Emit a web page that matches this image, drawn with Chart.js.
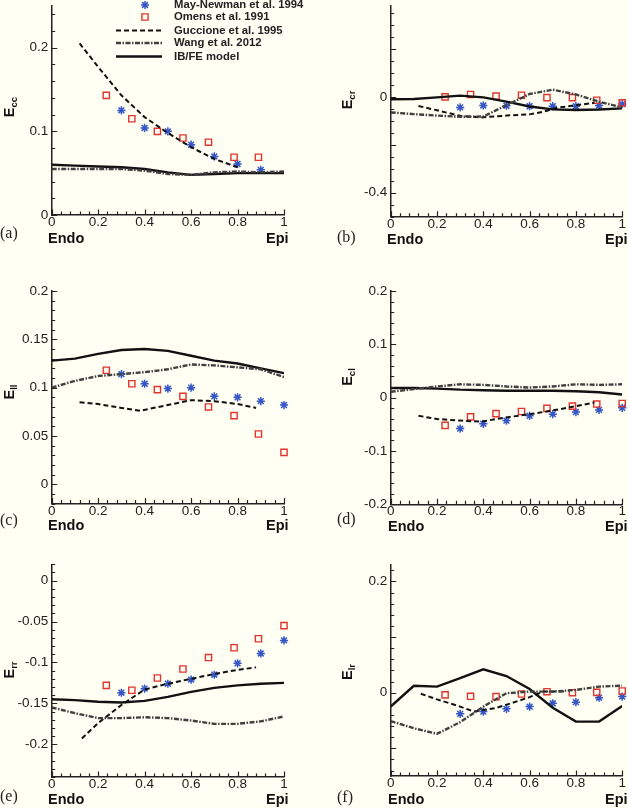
<!DOCTYPE html>
<html><head><meta charset="utf-8">
<script src="https://cdn.jsdelivr.net/npm/chart.js@4.4.0/dist/chart.umd.min.js"></script>
<style>
html,body{margin:0;padding:0;background:#fffff3;}
body{width:628px;height:808px;position:relative;overflow:hidden;font-family:"Liberation Sans",Arial,sans-serif;}
canvas{position:absolute;}
.t{position:absolute;white-space:nowrap;line-height:1;color:#111;}
.ytitle{font-weight:bold;font-size:14.5px;transform:translate(-50%,-50%) rotate(-90deg);}
.ytitle sub{font-size:9.5px;vertical-align:-3px;}
.end{font-weight:bold;font-size:14.5px;transform:translateY(-50%);}
.plab{font-family:"Liberation Serif","Times New Roman",serif;font-size:16px;transform:translateY(-50%);color:#222;}
</style></head>
<body>
<canvas id="cA" width="310" height="268" style="left:0;top:0"></canvas>
<canvas id="cB" width="318" height="268" style="left:310px;top:0"></canvas>
<canvas id="cC" width="310" height="267" style="left:0;top:268px"></canvas>
<canvas id="cD" width="318" height="267" style="left:310px;top:268px"></canvas>
<canvas id="cE" width="310" height="273" style="left:0;top:535px"></canvas>
<canvas id="cF" width="318" height="273" style="left:310px;top:535px"></canvas>

<div class="t ytitle" style="left:9.5px;top:107px">E<sub>cc</sub></div>
<div class="t ytitle" style="left:348px;top:100px">E<sub>cr</sub></div>
<div class="t ytitle" style="left:9.5px;top:392px">E<sub>ll</sub></div>
<div class="t ytitle" style="left:348px;top:377px">E<sub>cl</sub></div>
<div class="t ytitle" style="left:9.5px;top:670px">E<sub>rr</sub></div>
<div class="t ytitle" style="left:348px;top:672px">E<sub>lr</sub></div>

<div class="t end" style="left:48px;top:238px">Endo</div>
<div class="t end" style="left:266px;top:238px">Epi</div>
<div class="t end" style="left:387px;top:239px">Endo</div>
<div class="t end" style="left:605px;top:239px">Epi</div>
<div class="t end" style="left:48px;top:525px">Endo</div>
<div class="t end" style="left:266px;top:525px">Epi</div>
<div class="t end" style="left:388px;top:526px">Endo</div>
<div class="t end" style="left:605px;top:526px">Epi</div>
<div class="t end" style="left:48px;top:799px">Endo</div>
<div class="t end" style="left:266px;top:799px">Epi</div>
<div class="t end" style="left:388px;top:799px">Endo</div>
<div class="t end" style="left:605px;top:799px">Epi</div>

<div class="t plab" style="left:0;top:233px">(a)</div>
<div class="t plab" style="left:337px;top:237px">(b)</div>
<div class="t plab" style="left:0;top:520px">(c)</div>
<div class="t plab" style="left:337px;top:519px">(d)</div>
<div class="t plab" style="left:0;top:796px">(e)</div>
<div class="t plab" style="left:337px;top:797px">(f)</div>

<script>
// ---------- data ----------
const xGrid = [0,0.1,0.2,0.3,0.4,0.5,0.6,0.7,0.8,0.9,1];
const xStars = [0.3,0.4,0.5,0.6,0.7,0.8,0.9,1.0];
const xSquares = [0.235,0.345,0.455,0.565,0.675,0.785,0.89,1.0];
const xTickLabels = [0,0.2,0.4,0.6,0.8,1];

const seriesNames = ["May-Newman et al. 1994","Omens et al. 1991","Guccione et al. 1995","Wang et al. 2012","IB/FE model"];

// (a) E_cc
const ibfeA = [0.060,0.059,0.058,0.057,0.055,0.051,0.048,0.049,0.050,0.050,0.050];
const wangA = [0.055,0.055,0.055,0.055,0.053,0.049,0.048,0.051,0.052,0.051,0.052];
const gucXA = [0.12,0.2,0.3,0.4,0.5,0.6,0.7,0.8];
const gucA  = [0.205,0.177,0.143,0.117,0.098,0.081,0.067,0.057];
const mayA  = [0.125,0.104,0.100,0.084,0.070,0.061,0.054];
const omensA= [0.143,0.115,0.100,0.092,0.087,0.069,0.069];
const yTicksA = [0,0.1,0.2];

// (b) E_cr
const ibfeB = [-0.010,-0.009,-0.002,0.005,-0.002,-0.020,-0.040,-0.052,-0.055,-0.053,-0.048];
const wangB = [-0.065,-0.072,-0.078,-0.083,-0.082,-0.035,0.012,0.030,0.010,-0.020,-0.044];
const gucXB = [0.12,0.2,0.3,0.39,0.5,0.6,0.66,0.72,0.8,0.88];
const gucB  = [-0.038,-0.056,-0.079,-0.086,-0.078,-0.073,-0.062,-0.045,-0.035,-0.025];
const mayB  = [-0.044,-0.036,-0.037,-0.039,-0.039,-0.039,-0.036,-0.030];
const omensB= [0.000,0.010,0.003,0.007,-0.003,-0.003,-0.014,-0.025];
const yTicksB = [-0.4,0];

// (c) E_ll
const ibfeC = [0.128,0.130,0.135,0.139,0.140,0.138,0.133,0.128,0.125,0.120,0.115];
const wangC = [0.100,0.107,0.112,0.114,0.116,0.119,0.124,0.123,0.121,0.119,0.111];
const gucXC = [0.12,0.2,0.3,0.38,0.5,0.6,0.7,0.8,0.88];
const gucC  = [0.085,0.083,0.079,0.076,0.082,0.087,0.086,0.083,0.079];
const mayC  = [0.114,0.104,0.099,0.100,0.091,0.090,0.086,0.082];
const omensC= [0.118,0.104,0.098,0.091,0.080,0.071,0.052,0.033];
const yTicksC = [0,0.05,0.1,0.15,0.2];

// (d) E_cl
const ibfeD = [0.018,0.018,0.017,0.015,0.014,0.013,0.013,0.013,0.012,0.010,0.006];
const wangD = [0.011,0.016,0.021,0.025,0.024,0.021,0.019,0.021,0.025,0.024,0.025];
const gucXD = [0.12,0.2,0.3,0.39,0.5,0.6,0.7,0.8,0.88];
const gucD  = [-0.034,-0.040,-0.043,-0.045,-0.037,-0.031,-0.024,-0.016,-0.009];
const mayD  = [-0.058,-0.049,-0.043,-0.034,-0.031,-0.027,-0.023,-0.019];
const omensD= [-0.052,-0.036,-0.030,-0.026,-0.020,-0.016,-0.012,-0.011];
const yTicksD = [-0.2,-0.1,0,0.1,0.2];

// (e) E_rr
const ibfeE = [-0.145,-0.146,-0.148,-0.149,-0.147,-0.142,-0.136,-0.131,-0.128,-0.126,-0.125];
const wangE = [-0.155,-0.162,-0.168,-0.168,-0.167,-0.168,-0.171,-0.175,-0.175,-0.172,-0.166];
const gucXE = [0.13,0.2,0.3,0.4,0.5,0.6,0.7,0.8,0.88];
const gucE  = [-0.193,-0.174,-0.152,-0.133,-0.126,-0.120,-0.114,-0.109,-0.106];
const mayE  = [-0.137,-0.132,-0.126,-0.121,-0.115,-0.101,-0.089,-0.073];
const omensE= [-0.128,-0.134,-0.119,-0.108,-0.094,-0.082,-0.071,-0.055];
const yTicksE = [-0.2,-0.15,-0.1,-0.05,0];

// (f) E_lr
const ibfeF = [-0.025,0.0125,0.011,0.026,0.042,0.030,0.0065,-0.027,-0.052,-0.052,-0.024];
const wangF = [-0.051,-0.064,-0.074,-0.053,-0.025,-0.001,0.002,0.002,0.005,0.011,0.0125];
const gucXF = [0.13,0.2,0.3,0.36,0.45,0.52,0.6,0.66,0.75];
const gucF  = [-0.002,-0.012,-0.025,-0.034,-0.028,-0.019,-0.008,0.002,0.002];
const mayF  = [-0.038,-0.034,-0.029,-0.025,-0.019,-0.017,-0.009,-0.007];
const omensF= [-0.004,-0.0065,-0.007,-0.0024,0.0018,0.000,0.0006,0.003];
const yTicksF = [0,0.2];

// ---------- helpers ----------
Chart.defaults.font.family = '"Liberation Sans", Arial, Helvetica, sans-serif';
const FONT = '"Liberation Sans", Arial, Helvetica, sans-serif';
function fmt(v){ return String(+v.toFixed(4)); }
function pairs(xs, ys){ const n=Math.min(xs.length, ys.length); const o=[]; for(let i=0;i<n;i++) o.push({x:xs[i], y:ys[i]}); return o; }

function drawMarker(ctx, style, x, y, r){
  ctx.beginPath();
  if(style==='star'){
    const d=r*Math.SQRT1_2;
    ctx.moveTo(x-r,y);ctx.lineTo(x+r,y);ctx.moveTo(x,y-r);ctx.lineTo(x,y+r);
    ctx.moveTo(x-d,y-d);ctx.lineTo(x+d,y+d);ctx.moveTo(x-d,y+d);ctx.lineTo(x+d,y-d);
  } else {
    const s=r*Math.SQRT1_2; ctx.rect(x-s,y-s,2*s,2*s);
  }
  ctx.stroke();
}

function makeTickPlugin(yMajor, yMinorStep){
  const xMinorStep = 0.04;
  return {
    id:'inTicks',
    afterDraw(chart){
      const ctx = chart.ctx; const ca = chart.chartArea; const xs=chart.scales.x, ys=chart.scales.y;
      const isMaj=(arr,v)=>arr.some(m=>Math.abs(m-v)<1e-6);
      ctx.save(); ctx.setLineDash([]); ctx.strokeStyle='#222'; ctx.lineWidth=1.2; ctx.beginPath();
      const k0=Math.ceil(ys.min/yMinorStep-1e-6), k1=Math.floor(ys.max/yMinorStep+1e-6);
      for(let k=k0;k<=k1;k++){
        const v=k*yMinorStep; const p=Math.round(ys.getPixelForValue(v))+0.5;
        const L=isMaj(yMajor,v)?5.5:3.5; ctx.moveTo(ca.left,p); ctx.lineTo(ca.left+L,p);
      }
      for(let k=0;k<=25;k++){
        const v=k*xMinorStep; const p=Math.round(xs.getPixelForValue(v))+0.5;
        const L=isMaj(xTickLabels,v)?5.5:3.5; ctx.moveTo(p,ca.bottom); ctx.lineTo(p,ca.bottom-L);
      }
      ctx.stroke(); ctx.restore();
    }
  };
}

const legendPlugin = {
  id:'legendA',
  afterDraw(chart){
    const ctx=chart.ctx; const ds=chart.data.datasets;
    const order=[4,3,1,0,2]; const rowsY=[5,17,30.5,43,56.5];
    ctx.save();
    order.forEach((di,i)=>{
      const d=ds[di]; const y=rowsY[i];
      ctx.strokeStyle=d.borderColor; ctx.lineWidth=d.borderWidth;
      if(d.showLine){
        ctx.setLineDash(d.borderDash||[]); ctx.beginPath(); ctx.moveTo(116,y); ctx.lineTo(162,y); ctx.stroke(); ctx.setLineDash([]);
      } else {
        drawMarker(ctx, d.pointStyle, 145, y, d.pointRadius);
      }
      ctx.fillStyle='#222'; ctx.font='bold 11.3px '+FONT; ctx.textBaseline='middle'; ctx.textAlign='left';
      ctx.fillText(d.label, 174, y);
    });
    ctx.restore();
  }
};

function makePanel(id, p){
  const datasets = [
    {label:seriesNames[3], data:pairs(xGrid,p.wang), showLine:true, borderColor:'#404040', borderWidth:2.4, borderDash:[5,1.5,1.5,1.5], pointRadius:0, tension:0},
    {label:seriesNames[2], data:pairs(p.gucX,p.guc), showLine:true, borderColor:'#111', borderWidth:2, borderDash:[5,3], pointRadius:0, tension:0},
    {label:seriesNames[4], data:pairs(xGrid,p.ibfe), showLine:true, borderColor:'#111', borderWidth:2.4, pointRadius:0, tension:0},
    {label:seriesNames[1], data:pairs(xSquares,p.omens), showLine:false, pointStyle:'rect', pointRadius:4.4, borderColor:'#e0352f', backgroundColor:'rgba(0,0,0,0)', borderWidth:1.4, clip:false},
    {label:seriesNames[0], data:pairs(xStars,p.may), showLine:false, pointStyle:'star', pointRadius:4.1, borderColor:'#3556c4', backgroundColor:'rgba(0,0,0,0)', borderWidth:1.5, clip:false}
  ];
  const tickFont = {size:13.5, lineHeight:1, family:FONT};
  const plugins = [makeTickPlugin(p.yMajor, p.yMinor)];
  if(p.legend) plugins.push(legendPlugin);
  new Chart(document.getElementById(id), {
    type:'scatter',
    data:{datasets},
    options:{
      responsive:false, animation:false, devicePixelRatio:1,
      layout:{padding:p.pad},
      plugins:{legend:{display:false}, tooltip:{enabled:false}},
      elements:{point:{hoverRadius:0}},
      scales:{
        x:{type:'linear', min:0, max:1,
          afterBuildTicks:s=>{ s.ticks = xTickLabels.map(v=>({value:v})); },
          afterFit:s=>{ s.height=16; s.paddingLeft=0; s.paddingRight=0; },
          grid:{display:false, drawTicks:false},
          border:{display:true, color:'#222', width:1.5},
          ticks:{padding:0.5, font:tickFont, color:'#222', maxRotation:0, autoSkip:false, callback:v=>fmt(v)}},
        y:{type:'linear', min:p.yMin, max:p.yMax,
          afterBuildTicks:s=>{ s.ticks = p.yLabels.map(v=>({value:v})); },
          afterFit:s=>{ s.width=40; s.paddingTop=0; s.paddingBottom=0; },
          grid:{display:false, drawTicks:false},
          border:{display:true, color:'#222', width:1.5},
          ticks:{padding:3.5, font:tickFont, color:'#222', autoSkip:false, callback:v=>fmt(v)}}
      }
    },
    plugins
  });
}

makePanel('cA', {ibfe:ibfeA, wang:wangA, gucX:gucXA, guc:gucA, may:mayA, omens:omensA,
  yMin:0, yMax:0.25, yLabels:yTicksA, yMajor:[0,0.1,0.2], yMinor:0.02,
  pad:{left:11.7, right:26, top:3.4, bottom:37}, legend:true});
makePanel('cB', {ibfe:ibfeB, wang:wangB, gucX:gucXB, guc:gucB, may:mayB, omens:omensB,
  yMin:-0.5, yMax:0.38, yLabels:yTicksB, yMajor:[-0.4,-0.2,0,0.2], yMinor:0.05,
  pad:{left:40.7, right:5.3, top:5.5, bottom:35.3}});
makePanel('cC', {ibfe:ibfeC, wang:wangC, gucX:gucXC, guc:gucC, may:mayC, omens:omensC,
  yMin:-0.02, yMax:0.2, yLabels:yTicksC, yMajor:yTicksC, yMinor:0.01,
  pad:{left:11.7, right:26, top:23, bottom:15.4}});
makePanel('cD', {ibfe:ibfeD, wang:wangD, gucX:gucXD, guc:gucD, may:mayD, omens:omensD,
  yMin:-0.2, yMax:0.2, yLabels:yTicksD, yMajor:yTicksD, yMinor:0.02,
  pad:{left:40.7, right:5.3, top:23, bottom:14.7}});
makePanel('cE', {ibfe:ibfeE, wang:wangE, gucX:gucXE, guc:gucE, may:mayE, omens:omensE,
  yMin:-0.24, yMax:0.02, yLabels:yTicksE, yMajor:yTicksE, yMinor:0.01,
  pad:{left:11.7, right:26, top:29.3, bottom:15}});
makePanel('cF', {ibfe:ibfeF, wang:wangF, gucX:gucXF, guc:gucF, may:mayF, omens:omensF,
  yMin:-0.15, yMax:0.23, yLabels:yTicksF, yMajor:[-0.1,0,0.1,0.2], yMinor:0.02,
  pad:{left:40.7, right:5.3, top:29.8, bottom:15.9}});
</script>
</body></html>
